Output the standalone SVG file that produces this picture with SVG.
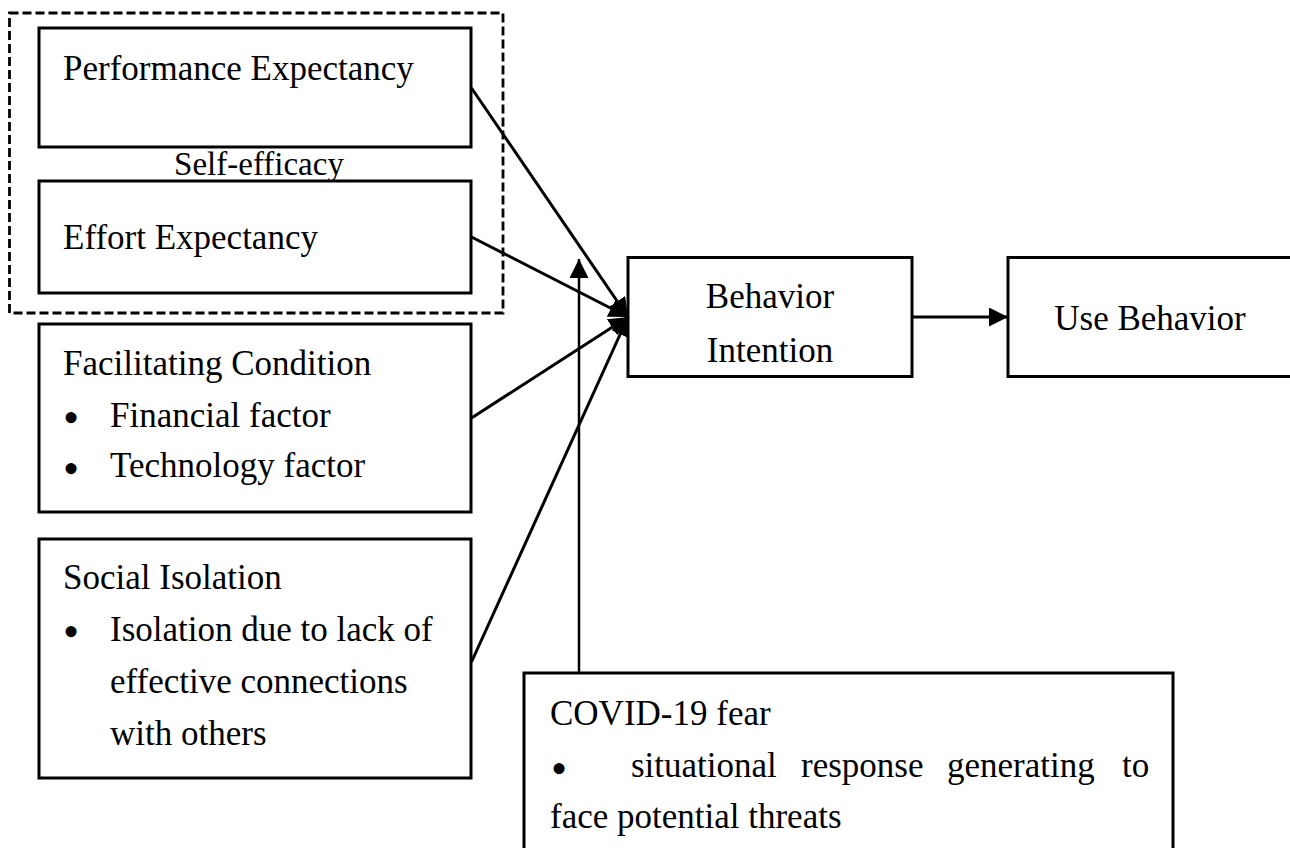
<svg xmlns="http://www.w3.org/2000/svg" width="1290" height="848" viewBox="0 0 1290 848">
<defs>
<style>
.box{fill:#fff;stroke:#000;stroke-width:3}
.grp{fill:none;stroke:#000;stroke-width:2.8;stroke-dasharray:9 4}
.t{font-family:"Liberation Serif","Times New Roman",serif;font-size:35px;fill:#000}
.b{font-family:"Liberation Serif","Times New Roman",serif;font-size:46px;fill:#000}
.c{text-anchor:middle}
.conn{stroke:#000;stroke-width:3;fill:none;marker-end:url(#ah)}
</style>
<marker id="ah" markerUnits="userSpaceOnUse" markerWidth="19" markerHeight="19" refX="18" refY="9" orient="auto" viewBox="0 0 18 18">
<path d="M0,0 L18,9 L0,18 z" fill="#000"/>
</marker>
</defs>
<rect width="1290" height="848" fill="#fff"/>
<g id="self-efficacy-group">
<rect class="grp" x="9.5" y="13" width="493.5" height="300"/>
<text class="t c" x="259" y="175" style="font-size:33px">Self-efficacy</text>
</g>
<g id="performance-expectancy">
<rect class="box" x="39" y="28" width="432" height="119"/>
<text class="t" x="63" y="80">Performance Expectancy</text>
</g>
<g id="effort-expectancy">
<rect class="box" x="39" y="181" width="432" height="112"/>
<text class="t" x="63" y="249">Effort Expectancy</text>
</g>
<g id="facilitating-condition">
<rect class="box" x="39" y="324" width="432" height="188"/>
<text class="t" x="63" y="375">Facilitating Condition</text>
<text class="b" x="63" y="433">•</text>
<text class="t" x="110" y="427">Financial factor</text>
<text class="b" x="63" y="484">•</text>
<text class="t" x="110" y="477">Technology factor</text>
</g>
<g id="social-isolation">
<rect class="box" x="39" y="539" width="432" height="239"/>
<text class="t" x="63" y="589">Social Isolation</text>
<text class="b" x="63" y="647">•</text>
<text class="t" x="110" y="641">Isolation due to lack of</text>
<text class="t" x="110" y="693">effective connections</text>
<text class="t" x="110" y="745">with others</text>
</g>
<g id="behavior-intention">
<rect class="box" x="628" y="257.5" width="284" height="119"/>
<text class="t c" x="770" y="308">Behavior</text>
<text class="t c" x="770" y="362">Intention</text>
</g>
<g id="use-behavior">
<rect class="box" x="1008" y="257.5" width="290" height="119"/>
<text class="t c" x="1150" y="330">Use Behavior</text>
</g>
<g id="covid-fear">
<rect class="box" x="524" y="673" width="649" height="200"/>
<text class="t" x="550" y="725">COVID-19 fear</text>
<text class="b" x="551" y="784">•</text>
<text class="t" x="631" y="777">situational</text>
<text class="t" x="801" y="777">response</text>
<text class="t" x="947" y="777">generating</text>
<text class="t" x="1122" y="777">to</text>
<text class="t" x="550" y="828">face potential threats</text>
</g>
<g id="connectors">
<line class="conn" x1="471.5" y1="88" x2="628" y2="317"/>
<line class="conn" x1="471.5" y1="237" x2="628" y2="317"/>
<line class="conn" x1="471.5" y1="418" x2="628" y2="317"/>
<line class="conn" x1="471.5" y1="662" x2="628" y2="317"/>
<line class="conn" x1="912" y1="317" x2="1008" y2="317"/>
<line class="conn" style="stroke-width:2.5" x1="579" y1="673" x2="579" y2="259"/>
</g>
</svg>
